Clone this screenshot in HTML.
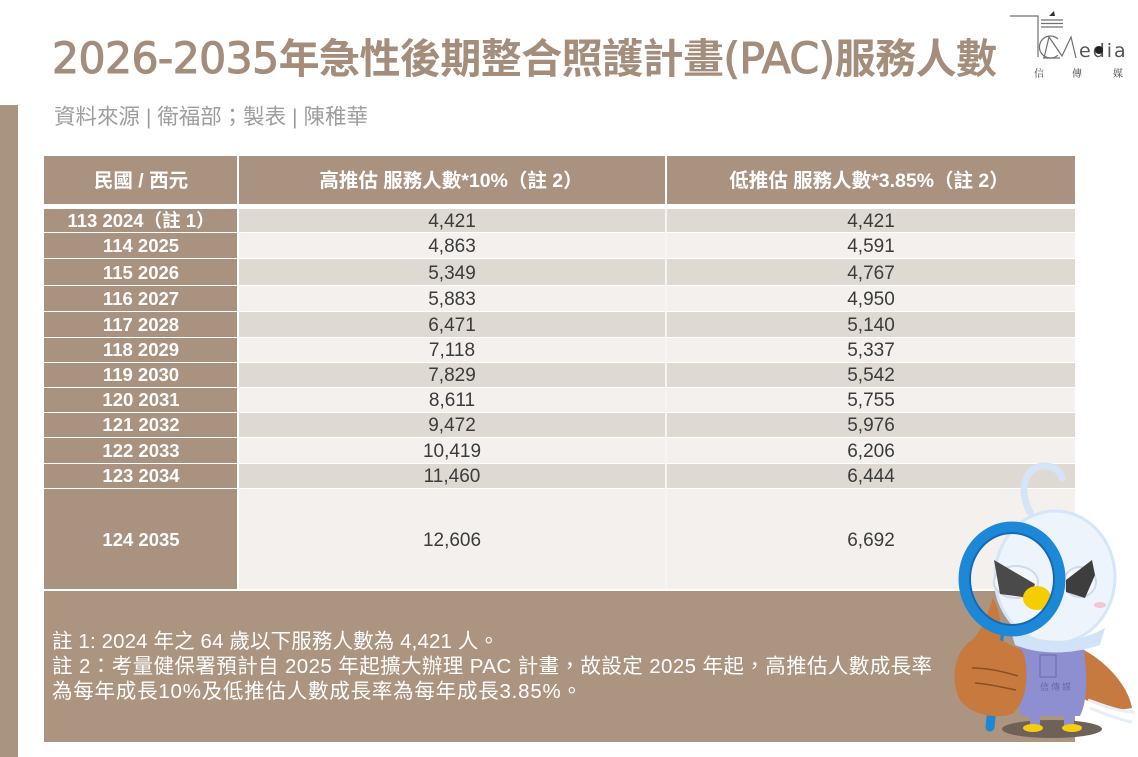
<!DOCTYPE html>
<html>
<head>
<meta charset="utf-8">
<style>
html,body{margin:0;padding:0;background:#fff;}
body{width:1138px;height:757px;overflow:hidden;}
svg{display:block;}
</style>
</head>
<body>
<svg width="1138" height="757" viewBox="0 0 1138 757" xmlns="http://www.w3.org/2000/svg">
<rect x="0" y="0" width="1138" height="757" fill="#ffffff"/>

<!-- left bar -->
<rect x="0" y="105" width="18" height="652" fill="#a99480"/>

<!-- title -->
<text x="52" y="73" font-size="41" fill="#a48d7a" textLength="945" lengthAdjust="spacing" font-family="'DejaVu Sans','Noto Sans CJK TC',sans-serif"><tspan font-family="'DejaVu Sans',sans-serif" font-size="42.5" stroke="#a48d7a" stroke-width="1.1">2026-2035</tspan><tspan font-family="'Noto Sans CJK TC','Noto Sans CJK SC',sans-serif" font-weight="bold">年急性後期整合照護計畫</tspan><tspan font-family="'DejaVu Sans',sans-serif" font-size="42.5" stroke="#a48d7a" stroke-width="1.1">(PAC)</tspan><tspan font-family="'Noto Sans CJK TC','Noto Sans CJK SC',sans-serif" font-weight="bold">服務人數</tspan></text>

<!-- subtitle -->
<text x="54" y="124" font-size="21.5" fill="#9e9e9e" textLength="314" lengthAdjust="spacing" font-family="'Liberation Sans','Noto Sans CJK TC',sans-serif">資料來源 | 衛福部；製表 | 陳稚華</text>

<!-- logo -->
<g stroke="#707070" fill="none" stroke-width="1.2">
  <polyline points="1010,16 1038,16 1038,57"/>
  <line x1="1041" y1="20" x2="1063" y2="20"/>
  <line x1="1041" y1="23.5" x2="1063" y2="23.5"/>
  <line x1="1041" y1="27" x2="1063" y2="27"/>
  <path d="M1058,39 A11,11 0 1 0 1058,55"/>
  <polyline points="1044,58 1049,37 1062,56 1071,37 1076,58"/>
  <line x1="1043" y1="58" x2="1060" y2="58"/>
</g>
<polygon points="1049,16 1054,11 1055,16" fill="#333"/>
<text x="1079" y="57" font-size="19" fill="#555" letter-spacing="2" font-family="'DejaVu Sans',sans-serif">edia</text>
<circle cx="1099" cy="50" r="4" fill="#222"/>
<text x="1034" y="77" font-size="10" fill="#444" font-family="'Noto Serif CJK SC','Noto Sans CJK TC',serif">信</text>
<text x="1072" y="77" font-size="10" fill="#444" font-family="'Noto Serif CJK SC','Noto Sans CJK TC',serif">傳</text>
<text x="1113" y="77" font-size="10" fill="#444" font-family="'Noto Serif CJK SC','Noto Sans CJK TC',serif">媒</text>

<!-- table header -->
<rect x="44" y="156" width="193" height="48" fill="#a99280"/>
<rect x="239" y="156" width="426" height="48" fill="#a99280"/>
<rect x="667" y="156" width="408" height="48" fill="#a99280"/>
<g font-family="'Liberation Sans','Noto Sans CJK TC',sans-serif" font-size="19.5" font-weight="bold" fill="#ffffff" text-anchor="middle">
  <text x="141" y="187">民國 / 西元</text>
  <text x="451" y="187">高推估 服務人數*10%（註 2）</text>
  <text x="869" y="187">低推估 服務人數*3.85%（註 2）</text>
</g>

<!-- rows -->
<g>
  <rect x="44" y="209" width="193" height="23" fill="#a99280"/>
  <rect x="239" y="209" width="836" height="23" fill="#dfd9d4"/>
  <rect x="44" y="233" width="193" height="25" fill="#a99280"/>
  <rect x="239" y="233" width="836" height="25" fill="#f3f0ed"/>
  <rect x="44" y="259" width="193" height="26" fill="#a99280"/>
  <rect x="239" y="259" width="836" height="26" fill="#dfd9d4"/>
  <rect x="44" y="286" width="193" height="25" fill="#a99280"/>
  <rect x="239" y="286" width="836" height="25" fill="#f3f0ed"/>
  <rect x="44" y="312" width="193" height="25" fill="#a99280"/>
  <rect x="239" y="312" width="836" height="25" fill="#dfd9d4"/>
  <rect x="44" y="338" width="193" height="24" fill="#a99280"/>
  <rect x="239" y="338" width="836" height="24" fill="#f3f0ed"/>
  <rect x="44" y="363" width="193" height="24" fill="#a99280"/>
  <rect x="239" y="363" width="836" height="24" fill="#dfd9d4"/>
  <rect x="44" y="388" width="193" height="24" fill="#a99280"/>
  <rect x="239" y="388" width="836" height="24" fill="#f3f0ed"/>
  <rect x="44" y="413" width="193" height="24" fill="#a99280"/>
  <rect x="239" y="413" width="836" height="24" fill="#dfd9d4"/>
  <rect x="44" y="438" width="193" height="25" fill="#a99280"/>
  <rect x="239" y="438" width="836" height="25" fill="#f3f0ed"/>
  <rect x="44" y="464" width="193" height="24" fill="#a99280"/>
  <rect x="239" y="464" width="836" height="24" fill="#dfd9d4"/>
  <rect x="44" y="489" width="193" height="100" fill="#a99280"/>
  <rect x="239" y="489" width="836" height="100" fill="#f3f0ed"/>
  <rect x="665" y="209" width="2" height="380" fill="#f7f5f3"/>
</g>

<g font-family="'Liberation Sans','Noto Sans CJK TC',sans-serif" font-size="18.5" font-weight="bold" fill="#ffffff" text-anchor="middle">
  <text x="141" y="227">113 2024（註 1）</text>
  <text x="141" y="252">114 2025</text>
  <text x="141" y="279">115 2026</text>
  <text x="141" y="305">116 2027</text>
  <text x="141" y="331">117 2028</text>
  <text x="141" y="356">118 2029</text>
  <text x="141" y="381">119 2030</text>
  <text x="141" y="406">120 2031</text>
  <text x="141" y="431">121 2032</text>
  <text x="141" y="457">122 2033</text>
  <text x="141" y="482">123 2034</text>
  <text x="141" y="546">124 2035</text>
</g>

<g font-family="'Liberation Sans',sans-serif" font-size="19" fill="#3c3c3c" text-anchor="middle">
  <text x="452" y="227">4,421</text>
  <text x="452" y="252">4,863</text>
  <text x="452" y="279">5,349</text>
  <text x="452" y="305">5,883</text>
  <text x="452" y="331">6,471</text>
  <text x="452" y="356">7,118</text>
  <text x="452" y="381">7,829</text>
  <text x="452" y="406">8,611</text>
  <text x="452" y="431">9,472</text>
  <text x="452" y="457">10,419</text>
  <text x="452" y="482">11,460</text>
  <text x="452" y="546">12,606</text>

  <text x="871" y="227">4,421</text>
  <text x="871" y="252">4,591</text>
  <text x="871" y="279">4,767</text>
  <text x="871" y="305">4,950</text>
  <text x="871" y="331">5,140</text>
  <text x="871" y="356">5,337</text>
  <text x="871" y="381">5,542</text>
  <text x="871" y="406">5,755</text>
  <text x="871" y="431">5,976</text>
  <text x="871" y="457">6,206</text>
  <text x="871" y="482">6,444</text>
  <text x="871" y="546">6,692</text>
</g>

<!-- notes box -->
<rect x="44" y="591" width="1031" height="151" fill="#ab9581"/>
<g font-family="'Liberation Sans','Noto Sans CJK TC',sans-serif" font-size="20.5" fill="#ffffff">
  <text x="52" y="648" textLength="447" lengthAdjust="spacing">註 1: 2024 年之 64 歲以下服務人數為 4,421 人。</text>
  <text x="52" y="673" textLength="880" lengthAdjust="spacing">註 2：考量健保署預計自 2025 年起擴大辦理 PAC 計畫，故設定 2025 年起，高推估人數成長率</text>
  <text x="52" y="698" textLength="530" lengthAdjust="spacing">為每年成長10%及低推估人數成長率為每年成長3.85%。</text>
</g>

<!-- mascot -->
<g>
  <ellipse cx="1052" cy="729" rx="50" ry="9" fill="#6e6157"/>
  <path d="M1080,648 C1105,660 1128,685 1132,708 C1115,712 1095,705 1082,698 Z" fill="#c67a3f"/>
  <path d="M1088,700 C1105,706 1120,712 1135,712 M1090,708 C1105,714 1120,720 1132,722" stroke="#e6eef8" stroke-width="3" fill="none"/>
  <path d="M1020,640 L1082,640 C1088,670 1088,700 1080,716 L1022,716 C1014,700 1014,670 1020,640 Z" fill="#8d8fd0"/>
  <rect x="1030" y="712" width="10" height="14" fill="#8d8fd0"/>
  <rect x="1064" y="712" width="10" height="14" fill="#8d8fd0"/>
  <ellipse cx="1033" cy="728" rx="10" ry="4" fill="#f5cc10"/>
  <ellipse cx="1072" cy="728" rx="10" ry="4" fill="#f5cc10"/>
  <text x="1040" y="690" font-size="9" fill="#6a6aa8" font-family="'Noto Sans CJK TC',sans-serif">信 傳 媒</text>
  <rect x="1040" y="655" width="16" height="22" fill="none" stroke="#6a6aa8" stroke-width="1"/>
  <path d="M1030,512 C1018,490 1025,468 1042,466 C1052,465 1060,470 1062,478" stroke="#d5e4f6" stroke-width="7" fill="none" stroke-linecap="round"/>
  <ellipse cx="1055" cy="577" rx="60" ry="66" fill="#eef4fc" stroke="#d6e5f7" stroke-width="3"/>
  <path d="M1010,628 C1040,645 1075,645 1105,628 L1100,645 C1070,655 1040,655 1015,645 Z" fill="#d2e3f7"/>
  <ellipse cx="1100" cy="605" rx="6" ry="3" fill="#f4c6cf"/>
  <ellipse cx="1016" cy="582" rx="22" ry="16" fill="#f3f6fb" stroke="#d0dbe8" stroke-width="2"/>
  <ellipse cx="1080" cy="582" rx="16" ry="15" fill="#f3f6fb" stroke="#d0dbe8" stroke-width="2"/>
  <path d="M994,560 L1035,584 L1030,598 L1000,594 Z" fill="#4a4a4a"/>
  <path d="M1092,560 L1095,575 L1085,598 L1066,592 L1066,580 Z" fill="#3e3e3e"/>
  <ellipse cx="1037" cy="598" rx="14" ry="12" fill="#f5cd00"/>
  <line x1="1000" y1="630" x2="990" y2="727" stroke="#1f86d4" stroke-width="9" stroke-linecap="round"/>
  <path d="M993,598 C1000,610 1002,628 1000,640 L1022,650 C1030,668 1028,702 1012,714 C995,720 966,714 958,696 C950,675 956,650 972,640 C983,630 988,612 993,598 Z" fill="#c8793e"/>
  <path d="M972,668 C988,668 1005,672 1018,676 M975,683 C990,684 1005,688 1016,690" stroke="#8a4f24" stroke-width="1.5" fill="none"/>
  <ellipse cx="1012" cy="579" rx="48" ry="52" fill="none" stroke="#1e88d8" stroke-width="11"/>
  <ellipse cx="1012" cy="579" rx="42" ry="46" fill="none" stroke="#1569b0" stroke-width="2"/>
</g>
</svg>
</body>
</html>
